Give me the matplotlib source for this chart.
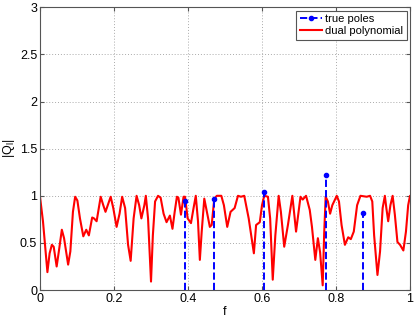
import matplotlib
matplotlib.use("Agg")
import matplotlib.pyplot as plt
from matplotlib.lines import Line2D

plt.rcParams["font.family"] = ["Liberation Sans", "DejaVu Sans"]
plt.rcParams["mathtext.fontset"] = "custom"
plt.rcParams["mathtext.rm"] = "Liberation Sans"

# true pole locations and amplitudes
pole_f = [0.392, 0.469, 0.606, 0.773, 0.874]
pole_amp = [0.94, 0.97, 1.04, 1.22, 0.82]

# dual polynomial magnitude
dual_f = [0.000, 0.008, 0.020, 0.026, 0.032, 0.037, 0.045, 0.052, 0.059, 0.065,
          0.076, 0.082, 0.089, 0.095, 0.101, 0.108, 0.117, 0.125, 0.132, 0.141,
          0.146, 0.153, 0.164, 0.171, 0.177, 0.191, 0.198, 0.207, 0.215, 0.222,
          0.230, 0.238, 0.245, 0.253, 0.261, 0.268, 0.274, 0.282, 0.286, 0.292,
          0.300, 0.305, 0.311, 0.319, 0.326, 0.334, 0.342, 0.351, 0.358, 0.364,
          0.370, 0.374, 0.381, 0.388, 0.392, 0.399, 0.408, 0.415, 0.421, 0.427,
          0.432, 0.437, 0.444, 0.451, 0.459, 0.464, 0.471, 0.478, 0.490, 0.497,
          0.506, 0.515, 0.526, 0.535, 0.543, 0.552, 0.564, 0.578, 0.584, 0.594,
          0.600, 0.606, 0.616, 0.622, 0.629, 0.636, 0.645, 0.651, 0.660, 0.670,
          0.682, 0.692, 0.704, 0.710, 0.719, 0.729, 0.735, 0.744, 0.751, 0.757,
          0.764, 0.768, 0.772, 0.778, 0.784, 0.790, 0.802, 0.808, 0.815, 0.824,
          0.833, 0.840, 0.848, 0.857, 0.866, 0.883, 0.892, 0.898, 0.903, 0.912,
          0.919, 0.926, 0.932, 0.936, 0.941, 0.947, 0.953, 0.959, 0.966, 0.973,
          0.982, 0.989, 0.995, 1.000]
dual_q = [0.99, 0.73, 0.19, 0.39, 0.48, 0.46, 0.25, 0.44, 0.64, 0.55,
          0.27, 0.41, 0.83, 0.99, 0.95, 0.76, 0.57, 0.64, 0.58, 0.77,
          0.76, 0.73, 0.99, 0.90, 0.83, 0.99, 0.87, 0.67, 0.81, 0.99,
          0.87, 0.48, 0.31, 0.76, 1.00, 0.90, 0.76, 0.90, 1.00, 0.76,
          0.09, 0.58, 0.94, 1.00, 0.98, 0.81, 0.72, 0.79, 0.65, 0.83,
          0.99, 0.98, 0.80, 0.99, 0.99, 0.76, 0.71, 0.87, 1.00, 0.73,
          0.32, 0.62, 0.97, 0.83, 0.67, 0.69, 0.97, 1.00, 1.00, 0.90,
          0.67, 0.83, 0.87, 1.00, 0.99, 1.00, 0.76, 0.39, 0.69, 0.72,
          0.90, 1.00, 0.99, 0.76, 0.11, 0.58, 1.00, 0.83, 0.46, 0.69,
          1.00, 0.62, 0.99, 0.96, 1.00, 0.85, 0.67, 0.32, 0.55, 0.40,
          0.05, 0.60, 0.99, 0.94, 0.81, 0.90, 1.00, 0.94, 0.69, 0.48,
          0.56, 0.54, 0.62, 0.90, 1.00, 0.99, 1.00, 0.94, 0.58, 0.16,
          0.41, 0.87, 1.00, 0.87, 0.73, 0.90, 1.00, 0.80, 0.51, 0.48,
          0.42, 0.62, 0.90, 1.00]

fig = plt.figure(figsize=(4.15, 3.17), dpi=100)
ax = fig.add_axes([0.0964, 0.085, 0.8916, 0.892])

ax.vlines(pole_f, 0, pole_amp, colors="blue", linestyles="--", lw=1.4, zorder=3)
ax.plot(pole_f, pole_amp, "o", color="blue", ms=3, zorder=4)
ax.plot(dual_f, dual_q, color="red", lw=1.5, zorder=2,
        solid_joinstyle="round", solid_capstyle="round")

ax.set_xlim(0, 1)
ax.set_ylim(0, 3)
ax.set_xticks([0, 0.2, 0.4, 0.6, 0.8, 1])
ax.set_xticklabels(["0", "0.2", "0.4", "0.6", "0.8", "1"])
ax.set_yticks([0, 0.5, 1, 1.5, 2, 2.5, 3])
ax.set_yticklabels(["0", "0.5", "1", "1.5", "2", "2.5", "3"])
ax.tick_params(direction="in", length=3, labelsize=9, top=True, right=True,
               color="#555555", pad=2)
ax.grid(True, linestyle=(0, (1, 2)), color="#aaaaaa", lw=0.7)
for sp in ax.spines.values():
    sp.set_color("#555555")
    sp.set_linewidth(0.8)

ax.set_xlabel("f", fontsize=9, labelpad=1)
ax.set_ylabel(r"$|\mathrm{Q}_\mathrm{l}|$", fontsize=9, labelpad=2)

handles = [
    Line2D([], [], color="blue", ls="--", marker="o", ms=3, lw=1.4),
    Line2D([], [], color="red", lw=1.5),
]
leg = ax.legend(handles, ["true poles", "dual polynomial"], loc="upper right",
                fontsize=8, fancybox=False, framealpha=1, edgecolor="#555555",
                handlelength=2.0, handletextpad=0.3, borderpad=0.3,
                labelspacing=0.2, borderaxespad=0.3, numpoints=1)
leg.get_frame().set_linewidth(0.8)

fig.savefig("out.png", dpi=100)
